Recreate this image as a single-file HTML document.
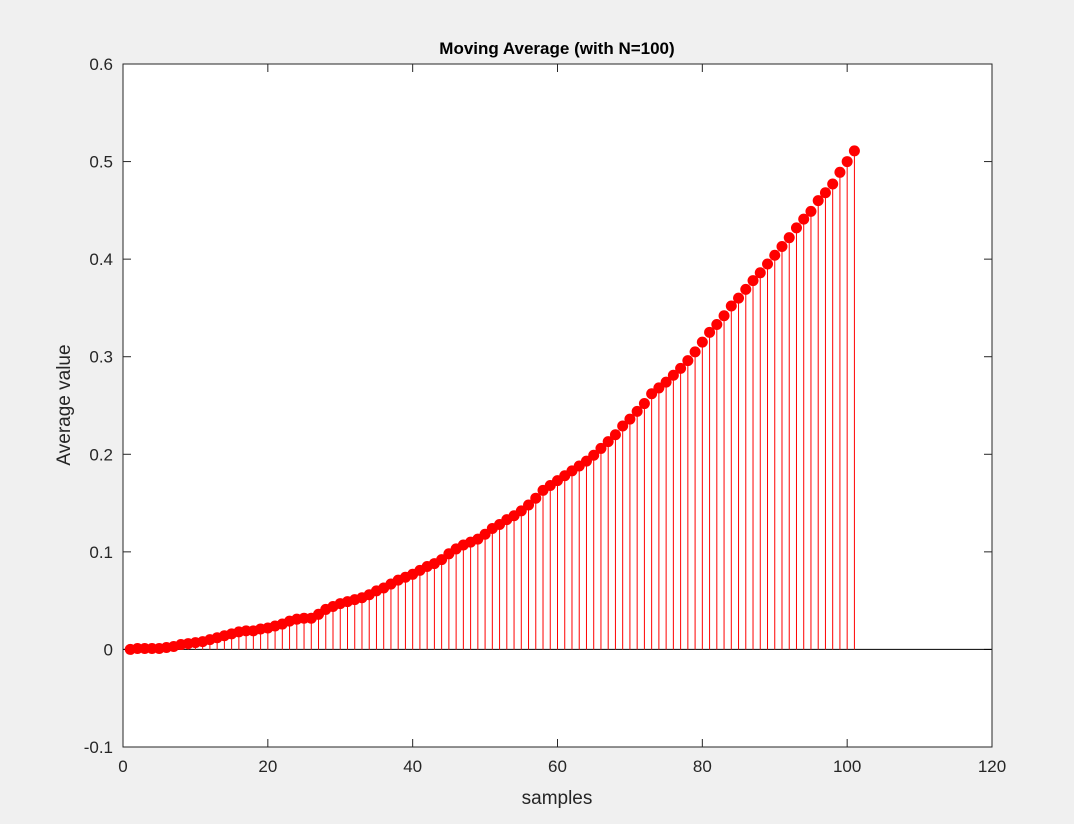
<!DOCTYPE html>
<html><head><meta charset="utf-8"><style>
body{margin:0;background:#f0f0f0;}
svg{display:block;font-family:"Liberation Sans",sans-serif;}
</style></head><body>
<svg id="chart" width="1074" height="824" viewBox="0 0 1074 824">
<rect x="0" y="0" width="1074" height="824" fill="#f0f0f0"/>
<rect x="123" y="64" width="869" height="683" fill="#fff"/>
<g id="grid"></g>
<g id="marks"></g>
<rect x="123" y="64" width="869" height="683" fill="none" stroke="#262626" stroke-width="1"/>
<text x="557" y="54" text-anchor="middle" font-size="17" font-weight="bold" fill="#000">Moving Average (with N=100)</text>
<text x="557" y="804" text-anchor="middle" font-size="19" fill="#262626">samples</text>
<text transform="translate(70,405) rotate(-90)" text-anchor="middle" font-size="19" fill="#262626">Average value</text>
</svg>
<script>
const xTicks=[0,20,40,60,80,100,120];
const yTicks=[-0.1,0,0.1,0.2,0.3,0.4,0.5,0.6];
const yTickLabels=["-0.1","0","0.1","0.2","0.3","0.4","0.5","0.6"];
const values=[0,0.001,0.001,0.001,0.001,0.002,0.003,0.005,0.006,0.007,
0.008,0.010,0.012,0.014,0.016,0.018,0.019,0.019,0.021,0.022,
0.024,0.026,0.029,0.031,0.032,0.032,0.036,0.041,0.044,0.047,
0.049,0.051,0.053,0.056,0.060,0.063,0.067,0.071,0.074,0.077,
0.081,0.085,0.088,0.092,0.098,0.103,0.107,0.110,0.113,0.118,
0.124,0.128,0.133,0.137,0.142,0.148,0.155,0.163,0.168,0.173,
0.178,0.183,0.188,0.193,0.199,0.206,0.213,0.220,0.229,0.236,
0.244,0.252,0.262,0.268,0.274,0.281,0.288,0.296,0.305,0.315,
0.325,0.333,0.342,0.352,0.360,0.369,0.378,0.386,0.395,0.404,
0.413,0.422,0.432,0.441,0.449,0.460,0.468,0.477,0.489,0.500,0.511];
const samples=values.map((v,i)=>i+1);
const X0=123,X1=992,Y0=747,Y1=64;
const xs=v=>X0+(v-0)/(120-0)*(X1-X0);
const ys=v=>Y0-(v-(-0.1))/(0.6-(-0.1))*(Y0-Y1);
const NS="http://www.w3.org/2000/svg";
const grid=document.getElementById('grid'),marks=document.getElementById('marks');
function mk(tag,attrs,parent){const e=document.createElementNS(NS,tag);for(const k in attrs)e.setAttribute(k,attrs[k]);parent.appendChild(e);return e;}
xTicks.forEach(t=>{
  const x=xs(t);
  const a=mk('line',{x1:x,x2:x,y1:Y0,y2:Y0-8,stroke:'#262626'},grid);
  
  
  const b=mk('line',{x1:x,x2:x,y1:Y1,y2:Y1+8,stroke:'#262626'},grid);
  
  
  const l=mk('text',{x:x,y:Y0+25,'text-anchor':'middle','font-size':17,fill:'#262626'},grid);
  l.textContent=t;
  
  
});
yTicks.forEach((t,i)=>{
  const y=ys(t);
  const a=mk('line',{x1:X0,x2:X0+8,y1:y,y2:y,stroke:'#262626'},grid);
  
  
  const b=mk('line',{x1:X1,x2:X1-8,y1:y,y2:y,stroke:'#262626'},grid);
  
  
  const l=mk('text',{x:X0-10,y:y+6,'text-anchor':'end','font-size':17,fill:'#262626'},grid);
  l.textContent=yTickLabels[i];
  
  
});
const base=mk('line',{x1:X0,x2:X1,y1:ys(0),y2:ys(0),stroke:'#000','stroke-width':1},marks);


samples.forEach((s,i)=>{
  const st=mk('line',{x1:xs(s),x2:xs(s),y1:ys(0),y2:ys(values[i]),stroke:'#f00','stroke-width':1},marks);
  
  
});
samples.forEach((s,i)=>{
  const c=mk('circle',{cx:xs(s),cy:ys(values[i]),r:5.5,fill:'#f00'},marks);
  
  
});
</script>
</body></html>
